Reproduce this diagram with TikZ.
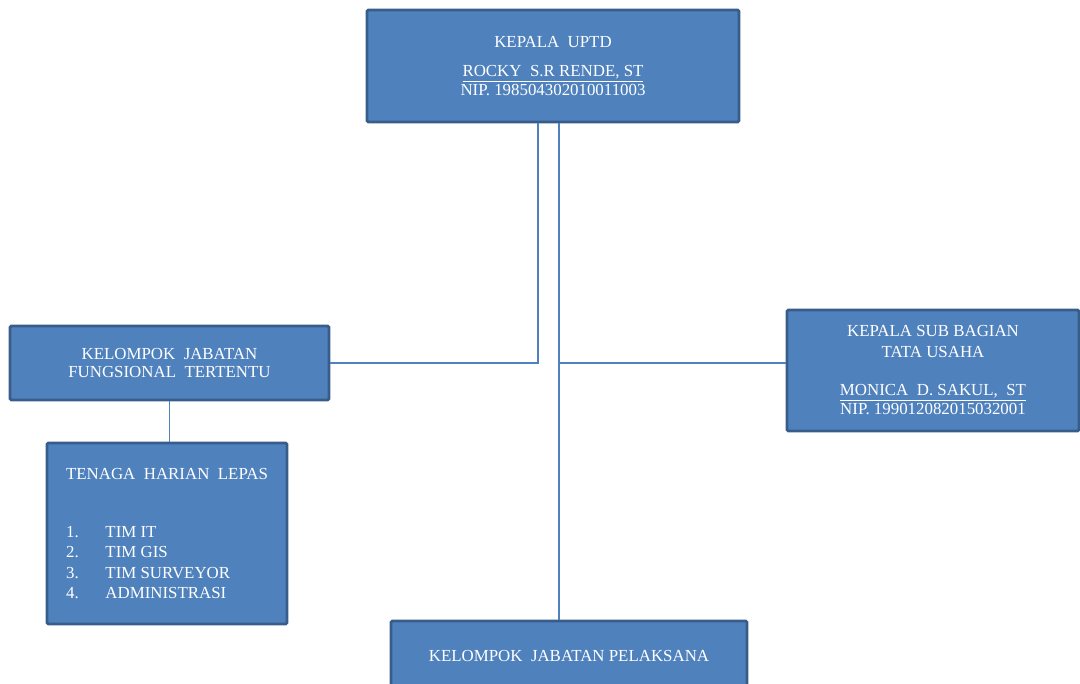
\documentclass[tikz,border=0pt]{standalone}
\usepackage{fontspec}
\setmainfont{Liberation Serif}
\usetikzlibrary{positioning,calc}
\definecolor{orgfill}{RGB}{79,129,189}
\definecolor{orgborder}{RGB}{56,93,138}
\definecolor{orgline}{RGB}{79,129,189}
\tikzset{
  orgbox/.style={rectangle, rounded corners=1pt, draw=orgborder, line width=2pt,
    fill=orgfill, text=white, align=center, font=\fontsize{12}{13.5}\selectfont},
  link/.style={draw=orgline, line width=1.4pt}
}

\begin{document}
\begin{tikzpicture}
  \useasboundingbox (0,0) rectangle (27,-17.1);

  % --- head ---
  \node[orgbox, minimum width=9.3cm, minimum height=2.8cm] (kepala) at (13.825,-1.65)
       {KEPALA\ \ UPTD\\[7pt] \underline{ROCKY\ \ S.R RENDE,\ ST}\\ NIP.\ 198504302010011003};

  % --- left branch ---
  \node[orgbox, minimum width=7.975cm, minimum height=1.85cm] (fungsional) at (4.2375,-9.075)
       {KELOMPOK\ \ JABATAN\\ FUNGSIONAL\ \ TERTENTU};
  \node[orgbox, minimum width=6cm, minimum height=4.525cm, align=left] (harian) at (4.175,-13.3375)
       {TENAGA\ \ HARIAN\ \ LEPAS\\[28pt]
        \makebox[28pt][l]{1.}TIM IT\\[1pt]
        \makebox[28pt][l]{2.}TIM GIS\\[1pt]
        \makebox[28pt][l]{3.}TIM SURVEYOR\\[1pt]
        \makebox[28pt][l]{4.}ADMINISTRASI};

  % --- right branch ---
  \node[orgbox, minimum width=7.3cm, minimum height=3.025cm] (tatausaha) at (23.325,-9.2625)
       {KEPALA\ SUB\ BAGIAN\\[1pt] TATA\ USAHA\\[14pt] \underline{MONICA\ \ D.\ SAKUL,\ \ ST}\\ NIP.\ 199012082015032001};

  % --- bottom ---
  \node[orgbox, minimum width=8.9cm, minimum height=1.75cm] (pelaksana) at (14.225,-16.4)
       {KELOMPOK\ \ JABATAN\ PELAKSANA};

  % ---------------- lines ----------------
  \coordinate (spine) at ([xshift=1.5mm]kepala.south);
  \draw[link] ([xshift=-3.75mm]kepala.south) |- (fungsional.east);
  \draw[link] (spine) -- (spine |- pelaksana.north);
  \draw[link] (spine |- fungsional.east) -- (fungsional.east -| tatausaha.west);
  \draw[link] (fungsional.south) -- (fungsional.south |- harian.north);

\end{tikzpicture}
\end{document}
